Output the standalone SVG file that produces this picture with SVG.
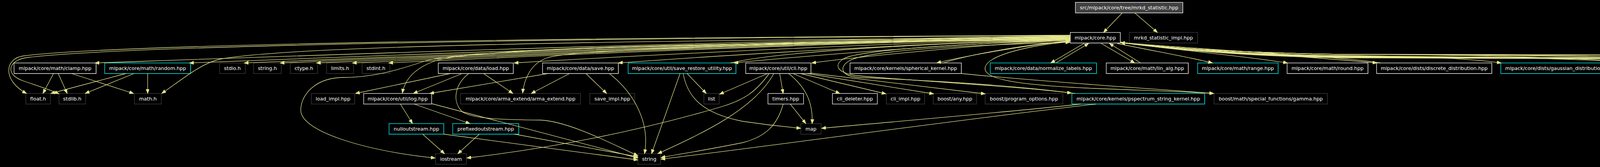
<svg xmlns="http://www.w3.org/2000/svg" width="6986" height="427" viewBox="0 0 6986 427">
<style>
.bg{fill:#000}
.node rect{fill:#000;stroke-width:1.3}
.node text{font-family:"DejaVu Sans",sans-serif;font-size:12.7px;fill:#fff;text-anchor:middle}
.node .s{fill:none;stroke-width:1.3}
.doc rect{stroke:#fff}
.doc .s{stroke:#bfbfbf}
.wht rect{stroke:#fff}
.gry rect{stroke:#404040}
.trn rect{stroke:#00ffff}
.trn .s{stroke:#00bfbf}
.root rect{fill:#404040;stroke:#fff}
.root .s{stroke:#bfbfbf}
#edges path{fill:none;stroke:#e6e68f;stroke-width:1.3;marker-end:url(#ah)}
</style>
<defs>
<marker id="ah" markerWidth="12" markerHeight="9" refX="11" refY="4.2" orient="auto" markerUnits="userSpaceOnUse"><path d="M0,0 L11,4.2 L0,8.4 z" fill="#e6e68f" stroke="#e6e68f" stroke-width="1"/></marker>
</defs>
<rect class="bg" x="0" y="0" width="6986" height="427"/>

<g id="nodes">
<g id="root" class="node root"><rect x="2753" y="6" width="275" height="27"/><path class="s" d="M2753,33 H3028 V6"/><text x="2890.5" y="24.3">src/mlpack/core/tree/mrkd_statistic.hpp</text></g>
<g id="core" class="node doc"><rect x="2740" y="83" width="128" height="27"/><path class="s" d="M2740,110 H2868 V83"/><text x="2804" y="101.3">mlpack/core.hpp</text></g>
<g id="mrkd_impl" class="node gry"><rect x="2891" y="83" width="175" height="27"/><text x="2978.5" y="101.3">mrkd_statistic_impl.hpp</text></g>

<g id="clamp" class="node doc"><rect x="36" y="161" width="210" height="27"/><path class="s" d="M36,188 H246 V161"/><text x="141" y="179.3">mlpack/core/math/clamp.hpp</text></g>
<g id="random" class="node trn"><rect x="268" y="161" width="220" height="27"/><path class="s" d="M268,188 H488 V161"/><text x="378" y="179.3">mlpack/core/math/random.hpp</text></g>
<g id="stdio" class="node gry"><rect x="562" y="161" width="66" height="27"/><text x="595" y="179.3">stdio.h</text></g>
<g id="string_h" class="node gry"><rect x="649" y="161" width="71" height="27"/><text x="684.5" y="179.3">string.h</text></g>
<g id="ctype" class="node gry"><rect x="743" y="161" width="70" height="27"/><text x="778" y="179.3">ctype.h</text></g>
<g id="limits" class="node gry"><rect x="836" y="161" width="69" height="27"/><text x="870.5" y="179.3">limits.h</text></g>
<g id="stdint" class="node gry"><rect x="927" y="161" width="71" height="27"/><text x="962.5" y="179.3">stdint.h</text></g>
<g id="load" class="node doc"><rect x="1122" y="161" width="192" height="27"/><path class="s" d="M1122,188 H1314 V161"/><text x="1218" y="179.3">mlpack/core/data/load.hpp</text></g>
<g id="save" class="node doc"><rect x="1389" y="161" width="194" height="27"/><path class="s" d="M1389,188 H1583 V161"/><text x="1486" y="179.3">mlpack/core/data/save.hpp</text></g>
<g id="save_restore" class="node trn"><rect x="1608" y="161" width="276" height="27"/><path class="s" d="M1608,188 H1884 V161"/><text x="1746" y="179.3">mlpack/core/util/save_restore_utility.hpp</text></g>
<g id="cli" class="node doc"><rect x="1909" y="161" width="167" height="27"/><path class="s" d="M1909,188 H2076 V161"/><text x="1992.5" y="179.3">mlpack/core/util/cli.hpp</text></g>
<g id="spherical" class="node doc"><rect x="2176" y="161" width="285" height="27"/><path class="s" d="M2176,188 H2461 V161"/><text x="2318.5" y="179.3">mlpack/core/kernels/spherical_kernel.hpp</text></g>
<g id="normalize" class="node trn"><rect x="2535" y="161" width="272" height="27"/><path class="s" d="M2535,188 H2807 V161"/><text x="2671" y="179.3">mlpack/core/data/normalize_labels.hpp</text></g>
<g id="lin_alg" class="node doc"><rect x="2832" y="161" width="210" height="27"/><path class="s" d="M2832,188 H3042 V161"/><text x="2937" y="179.3">mlpack/core/math/lin_alg.hpp</text></g>
<g id="range" class="node trn"><rect x="3066" y="161" width="206" height="27"/><path class="s" d="M3066,188 H3272 V161"/><text x="3169" y="179.3">mlpack/core/math/range.hpp</text></g>
<g id="round" class="node doc"><rect x="3295" y="161" width="207" height="27"/><path class="s" d="M3295,188 H3502 V161"/><text x="3398.5" y="179.3">mlpack/core/math/round.hpp</text></g>
<g id="discrete" class="node doc"><rect x="3524" y="161" width="295" height="27"/><path class="s" d="M3524,188 H3819 V161"/><text x="3671.5" y="179.3">mlpack/core/dists/discrete_distribution.hpp</text></g>
<g id="gauss_dist" class="node trn"><rect x="3842" y="161" width="302" height="27"/><path class="s" d="M3842,188 H4144 V161"/><text x="3993" y="179.3">mlpack/core/dists/gaussian_distribution.hpp</text></g>
<g id="kernel_traits" class="node doc"><rect x="4167" y="161" width="263" height="27"/><path class="s" d="M4167,188 H4430 V161"/><text x="4298.5" y="179.3">mlpack/core/kernels/kernel_traits.hpp</text></g>
<g id="linear" class="node doc"><rect x="4452" y="161" width="263" height="27"/><path class="s" d="M4452,188 H4715 V161"/><text x="4583.5" y="179.3">mlpack/core/kernels/linear_kernel.hpp</text></g>
<g id="polynomial" class="node doc"><rect x="4737" y="161" width="298" height="27"/><path class="s" d="M4737,188 H5035 V161"/><text x="4886" y="179.3">mlpack/core/kernels/polynomial_kernel.hpp</text></g>
<g id="cosine" class="node trn"><rect x="5058" y="161" width="284" height="27"/><path class="s" d="M5058,188 H5342 V161"/><text x="5200" y="179.3">mlpack/core/kernels/cosine_distance.hpp</text></g>
<g id="gauss_kernel" class="node trn"><rect x="5365" y="161" width="285" height="27"/><path class="s" d="M5365,188 H5650 V161"/><text x="5507.5" y="179.3">mlpack/core/kernels/gaussian_kernel.hpp</text></g>
<g id="epan" class="node trn"><rect x="5673" y="161" width="317" height="27"/><path class="s" d="M5673,188 H5990 V161"/><text x="5831.5" y="179.3">mlpack/core/kernels/epanechnikov_kernel.hpp</text></g>
<g id="hyper" class="node doc"><rect x="6012" y="161" width="352" height="27"/><path class="s" d="M6012,188 H6364 V161"/><text x="6188" y="179.3">mlpack/core/kernels/hyperbolic_tangent_kernel.hpp</text></g>
<g id="laplacian" class="node doc"><rect x="6386" y="161" width="284" height="27"/><path class="s" d="M6386,188 H6670 V161"/><text x="6528" y="179.3">mlpack/core/kernels/laplacian_kernel.hpp</text></g>
<g id="triangular" class="node trn"><rect x="6693" y="161" width="289" height="27"/><path class="s" d="M6693,188 H6982 V161"/><text x="6837.5" y="179.3">mlpack/core/kernels/triangular_kernel.hpp</text></g>

<g id="float" class="node gry"><rect x="66" y="239" width="63" height="27"/><text x="97.5" y="257.3">float.h</text></g>
<g id="stdlib" class="node gry"><rect x="151" y="239" width="68" height="27"/><text x="185" y="257.3">stdlib.h</text></g>
<g id="math" class="node gry"><rect x="344" y="239" width="69" height="27"/><text x="378.5" y="257.3">math.h</text></g>
<g id="load_impl" class="node gry"><rect x="797" y="239" width="111" height="27"/><text x="852.5" y="257.3">load_impl.hpp</text></g>
<g id="log" class="node wht"><rect x="931" y="239" width="174" height="27"/><text x="1018" y="257.3">mlpack/core/util/log.hpp</text></g>
<g id="arma_extend" class="node gry"><rect x="1179" y="239" width="307" height="27"/><text x="1332.5" y="257.3">mlpack/core/arma_extend/arma_extend.hpp</text></g>
<g id="save_impl" class="node gry"><rect x="1510" y="239" width="115" height="27"/><text x="1567.5" y="257.3">save_impl.hpp</text></g>
<g id="list" class="node gry"><rect x="1802" y="239" width="39" height="27"/><text x="1821.5" y="257.3">list</text></g>
<g id="timers" class="node wht"><rect x="1966" y="239" width="91" height="27"/><text x="2011.5" y="257.3">timers.hpp</text></g>
<g id="cli_deleter" class="node wht"><rect x="2131" y="239" width="115" height="27"/><text x="2188.5" y="257.3">cli_deleter.hpp</text></g>
<g id="cli_impl" class="node gry"><rect x="2269" y="239" width="98" height="27"/><text x="2318" y="257.3">cli_impl.hpp</text></g>
<g id="boost_any" class="node gry"><rect x="2389" y="239" width="111" height="27"/><text x="2444.5" y="257.3">boost/any.hpp</text></g>
<g id="boost_po" class="node gry"><rect x="2522" y="239" width="199" height="27"/><text x="2621.5" y="257.3">boost/program_options.hpp</text></g>
<g id="pspectrum" class="node trn"><rect x="2744" y="239" width="340" height="27"/><path class="s" d="M2744,266 H3084 V239"/><text x="2914" y="257.3">mlpack/core/kernels/pspectrum_string_kernel.hpp</text></g>
<g id="gamma" class="node gry"><rect x="3108" y="239" width="290" height="27"/><text x="3253" y="257.3">boost/math/special_functions/gamma.hpp</text></g>

<g id="nulloutstream" class="node trn"><rect x="996" y="316" width="140" height="27"/><path class="s" d="M996,343 H1136 V316"/><text x="1066" y="334.3">nulloutstream.hpp</text></g>
<g id="prefixedoutstream" class="node trn"><rect x="1159" y="316" width="169" height="27"/><path class="s" d="M1159,343 H1328 V316"/><text x="1243.5" y="334.3">prefixedoutstream.hpp</text></g>
<g id="map" class="node gry"><rect x="2050" y="316" width="52" height="27"/><text x="2076" y="334.3">map</text></g>

<g id="iostream" class="node gry"><rect x="1115" y="393" width="79" height="27"/><text x="1154.5" y="411.3">iostream</text></g>
<g id="string" class="node gry"><rect x="1633" y="393" width="58" height="27"/><text x="1662" y="411.3">string</text></g>
</g>

<g id="edges">
<path d="M2873,33 L2825,83"/>
<path d="M2905,33 L2963,83"/>

<path d="M2740,92 C1866,102 618,148 243,161"/>
<path d="M2740,93 C1951,103 823,148 485,161"/>
<path d="M2740,94 C2000,104 942,148 625,161"/>
<path d="M2740,95 C2032,105 1020,148 717,161"/>
<path d="M2740,96 C2065,106 1100,148 810,161"/>
<path d="M2740,97 C2097,107 1178,148 902,161"/>
<path d="M2740,98 C2129,108 1257,148 995,161"/>
<path d="M2740,99 C2242,109 1530,148 1316,161"/>
<path d="M2740,100 C2335,110 1757,148 1583,161"/>
<path d="M2740,101 C2439,111 2008,148 1879,161"/>
<path d="M2740,103 C2508,113 2177,148 2078,161"/>
<path d="M2740,105 C2620,115 2449,148 2398,161"/>

<path d="M2740,90 C1500,96 300,112 60,143 C12,149 5,205 68,239"/>
<path d="M2740,91 C1500,97 320,116 70,147 C22,153 10,190 60,207 C95,219 125,228 151,240"/>
<path d="M2740,96 C1500,104 760,118 570,150 C520,158 470,200 414,239"/>
<path d="M2740,99 C1800,110 1200,122 1110,157 C1060,176 1036,205 1030,238"/>
<path d="M2740,101 C1800,112 1180,125 1085,157 C1010,182 950,198 880,198 C810,198 770,240 770,282 C770,335 930,385 1114,404"/>
<path d="M2740,100 C2000,110 1470,125 1400,148 C1360,162 1342,200 1338,238"/>
<path d="M2740,103 C2450,112 2200,128 2160,150 C2135,165 2140,185 2190,193 C2350,208 2600,220 2743,238"/>
<path d="M2752,239 C2600,218 2360,205 2200,198 C2150,195 2148,170 2175,155 C2220,130 2450,116 2739,108"/>
<path d="M2738,107 C2640,115 2530,140 2522,172 C2515,205 2620,218 2800,226 C2950,232 3050,235 3107,239"/>
<path d="M2415,161 C2480,140 2600,118 2739,104"/>
<path d="M1870,161 C2000,130 2400,110 2739,101"/>

<path d="M2775,111 L2690,161"/>
<path d="M2703,161 L2787,111"/>
<path d="M2819,111 L2905,161"/>
<path d="M2920,161 L2840,111"/>

<path d="M2860,111 C2950,130 3040,145 3104,161"/>
<path d="M2868,109 C3000,126 3200,145 3296,161"/>
<path d="M2868,108 C3000,126 3300,140 3525,161"/>
<path d="M2868,108 C3000,127 3200,139 3450,142 C3646,144 3773,151 3843,161"/>
<path d="M2868,108 C3000,127 3200,140 3450,143 C3810,145 4100,151 4170,161"/>
<path d="M2868,108 C3000,127 3200,141 3450,144 C3952,146 4383,151 4453,161"/>
<path d="M2868,108 C3000,127 3200,142 3450,145 C4094,147 4668,151 4738,161"/>
<path d="M2868,108 C3000,127 3200,142 3450,145 C4254,147 4988,151 5058,161"/>
<path d="M2868,108 C3000,127 3200,143 3450,146 C4408,148 5296,152 5366,161"/>
<path d="M2868,108 C3000,127 3200,143 3450,146 C4562,148 5605,152 5675,161"/>
<path d="M2868,108 C3000,127 3200,144 3450,147 C4732,149 5943,152 6013,161"/>
<path d="M2868,108 C3000,127 3200,144 3450,147 C4919,149 6318,152 6388,161"/>
<path d="M2868,108 C3000,127 3200,145 3450,148 C5072,150 6624,153 6694,161"/>

<path d="M3535,161 C3450,146 3100,128 2869,109"/>
<path d="M4180,161 C4110,150 3815,140 3450,139 C3200,136 3000,124 2869,109"/>
<path d="M4463,161 C4393,150 3957,140 3450,139 C3200,136 3000,124 2869,109"/>
<path d="M4748,161 C4678,150 4099,140 3450,139 C3200,136 3000,124 2869,109"/>
<path d="M6023,161 C5953,150 4737,140 3450,139 C3200,136 3000,124 2869,109"/>
<path d="M6398,161 C6328,150 4924,140 3450,139 C3200,136 3000,124 2869,109"/>

<path d="M137,188 L110,239"/>
<path d="M149,188 L172,239"/>
<path d="M183,188 L342,239"/>
<path d="M322,188 L130,239"/>
<path d="M343,188 L218,239"/>
<path d="M378,188 L378,239"/>

<path d="M1153,188 L910,239"/>
<path d="M1183,188 L1058,239"/>
<path d="M1238,188 L1313,239"/>
<path d="M1200,188 C1165,215 1155,260 1185,287 C1215,305 1300,306 1383,307 C1460,310 1580,375 1633,398"/>

<path d="M1403,188 L1100,239"/>
<path d="M1458,188 L1360,239"/>
<path d="M1500,188 L1553,239"/>
<path d="M1560,188 C1620,235 1665,310 1650,393"/>

<path d="M1759,188 L1808,239"/>
<path d="M1741,188 L1668,393"/>
<path d="M1749,188 C1760,250 1800,290 1900,310 C1980,322 2020,325 2050,328"/>

<path d="M1965,188 L1842,241"/>
<path d="M1969,188 C1935,235 1905,255 1850,272 C1620,340 1400,380 1195,404"/>
<path d="M1981,188 C1930,280 1800,340 1684,393"/>
<path d="M1996,188 L2005,239"/>
<path d="M2019,188 C2060,220 2082,260 2079,316"/>
<path d="M2030,188 L2150,239"/>
<path d="M2049,188 L2268,240"/>
<path d="M2066,188 L2390,240"/>
<path d="M2076,187 L2522,240"/>

<path d="M1025,266 L1056,316"/>
<path d="M1060,266 L1203,316"/>
<path d="M1105,265 L1633,404"/>
<path d="M1082,343 L1138,393"/>
<path d="M1136,343 L1633,409"/>
<path d="M1227,343 L1172,393"/>
<path d="M1317,343 L1633,401"/>

<path d="M2023,266 L2063,316"/>
<path d="M2005,266 C1990,320 1960,350 1900,365 C1800,385 1750,392 1692,403"/>

<path d="M2767,266 C2600,285 2300,310 2103,328"/>
<path d="M2806,266 C2500,300 2000,370 1692,407"/>

<path d="M2461,188 C2700,212 3000,230 3107,239"/>
</g>
</svg>
